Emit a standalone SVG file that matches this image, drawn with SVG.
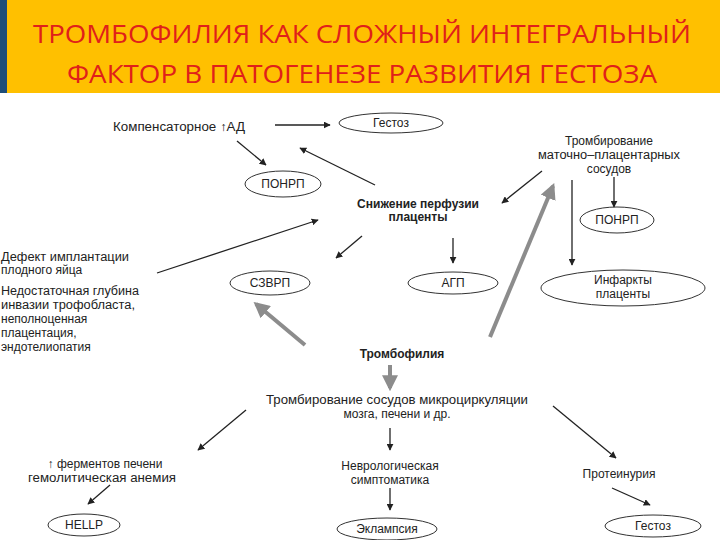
<svg xmlns="http://www.w3.org/2000/svg" width="720" height="540" viewBox="0 0 720 540">
<defs>
<style>
.t{font-family:"Liberation Sans",Arial,sans-serif;font-size:12px;fill:#222;text-anchor:middle}
.l{text-anchor:start}
.b{font-weight:bold}
.e{fill:none;stroke:#333;stroke-width:1}
.c{stroke:#222;stroke-width:1.3;fill:none;marker-end:url(#a)}
.g{stroke:#8c8c8c;stroke-width:4;fill:none;marker-end:url(#ga)}
</style>
<marker id="a" viewBox="0 0 10 10" refX="9" refY="5" markerWidth="7" markerHeight="7" orient="auto" markerUnits="userSpaceOnUse"><path d="M0,0L10,5L0,10z" fill="#222"/></marker>
<marker id="ga" viewBox="0 0 10 10" refX="8" refY="5" markerWidth="4" markerHeight="4" orient="auto"><path d="M0,0L10,5L0,10z" fill="#8c8c8c"/></marker>
</defs>
<rect width="720" height="540" fill="#fff"/>
<rect x="0" y="0" width="720" height="93" fill="#FFC000"/>
<rect x="0" y="0" width="7" height="93" fill="#1F4E79"/>
<g font-family="'Open Sans','Liberation Sans',sans-serif" font-size="26" fill="#E0201A" text-anchor="middle">
<text x="362" y="43" textLength="658" lengthAdjust="spacingAndGlyphs">ТРОМБОФИЛИЯ КАК СЛОЖНЫЙ ИНТЕГРАЛЬНЫЙ</text>
<text x="362" y="83" textLength="590" lengthAdjust="spacingAndGlyphs">ФАКТОР В ПАТОГЕНЕЗЕ РАЗВИТИЯ ГЕСТОЗА</text>
</g>
<g id="connectors">
<path class="c" d="M275,125H330"/>
<path class="c" d="M237,141L266,165"/>
<path class="c" d="M375,185L300,148"/>
<path class="c" d="M157,273L318,220"/>
<path class="c" d="M362,236L336,258"/>
<path class="c" d="M453,238V263"/>
<path class="c" d="M542,171L502,203"/>
<path class="c" d="M614,177V207"/>
<path class="c" d="M572,180V265"/>
<path class="g" d="M490,337L553,186"/>
<path class="g" d="M305,345L256,304"/>
<path class="g" d="M390,365V388"/>
<path class="c" d="M246,410L198,450"/>
<path class="c" d="M390,428V450"/>
<path class="c" d="M553,406L616,458"/>
<path class="c" d="M110,485L88,504"/>
<path class="c" d="M390,488V510"/>
<path class="c" d="M612,488L650,505"/>
</g>
<g id="n-komp"><text class="t" x="179" y="131" textLength="132" lengthAdjust="spacingAndGlyphs">Компенсаторное ↑АД</text></g>
<g id="n-gestoz1"><ellipse class="e" cx="391" cy="123" rx="52" ry="10"/><text class="t" x="391" y="127">Гестоз</text></g>
<g id="n-ponrp1"><ellipse class="e" cx="283" cy="184" rx="38" ry="13"/><text class="t" x="283" y="188">ПОНРП</text></g>
<g id="n-snizh"><text class="t b" x="418" y="208">Снижение перфузии</text><text class="t b" x="418" y="221">плаценты</text></g>
<g id="n-szvrp"><ellipse class="e" cx="270" cy="283" rx="40" ry="12"/><text class="t" x="270" y="287">СЗВРП</text></g>
<g id="n-agp"><ellipse class="e" cx="453" cy="283" rx="45" ry="11"/><text class="t" x="453" y="287">АГП</text></g>
<g id="n-defekt">
<text class="t l" x="1" y="261" textLength="128" lengthAdjust="spacingAndGlyphs">Дефект имплантации</text>
<text class="t l" x="1" y="274">плодного яйца</text>
<text class="t l" x="1" y="295" textLength="138" lengthAdjust="spacingAndGlyphs">Недостаточная глубина</text>
<text class="t l" x="1" y="309" textLength="134" lengthAdjust="spacingAndGlyphs">инвазии трофобласта,</text>
<text class="t l" x="1" y="323">неполноценная</text>
<text class="t l" x="1" y="337">плацентация,</text>
<text class="t l" x="1" y="351">эндотелиопатия</text>
</g>
<g id="n-tromb-mp"><text class="t" x="609" y="145">Тромбирование</text><text class="t" x="609" y="159" textLength="142" lengthAdjust="spacingAndGlyphs">маточно–плацентарных</text><text class="t" x="609" y="173">сосудов</text></g>
<g id="n-ponrp2"><ellipse class="e" cx="617" cy="220" rx="37" ry="13"/><text class="t" x="617" y="224">ПОНРП</text></g>
<g id="n-infarkt"><ellipse class="e" cx="623" cy="288" rx="82" ry="18"/><text class="t" x="623" y="284">Инфаркты</text><text class="t" x="623" y="298">плаценты</text></g>
<g id="n-trombofilia"><text class="t b" x="402" y="358" font-size="21" fill="#111">Тромбофилия</text></g>
<g id="n-micro"><text class="t" x="397" y="404" textLength="262" lengthAdjust="spacingAndGlyphs">Тромбирование сосудов микроциркуляции</text><text class="t" x="397" y="418">мозга, печени и др.</text></g>
<g id="n-ferm"><text class="t" x="105" y="468">↑ ферментов печени</text><text class="t" x="102" y="482" textLength="148" lengthAdjust="spacingAndGlyphs">гемолитическая анемия</text></g>
<g id="n-nevro"><text class="t" x="390" y="470">Неврологическая</text><text class="t" x="390" y="484">симптоматика</text></g>
<g id="n-prot"><text class="t" x="619" y="478">Протеинурия</text></g>
<g id="n-hellp"><ellipse class="e" cx="84" cy="525" rx="36" ry="11"/><text class="t" x="84" y="529">HELLP</text></g>
<g id="n-eklam"><ellipse class="e" cx="387" cy="529" rx="50" ry="11"/><text class="t" x="387" y="533">Эклампсия</text></g>
<g id="n-gestoz2"><ellipse class="e" cx="653" cy="526" rx="48" ry="11"/><text class="t" x="653" y="530">Гестоз</text></g>
</svg>
